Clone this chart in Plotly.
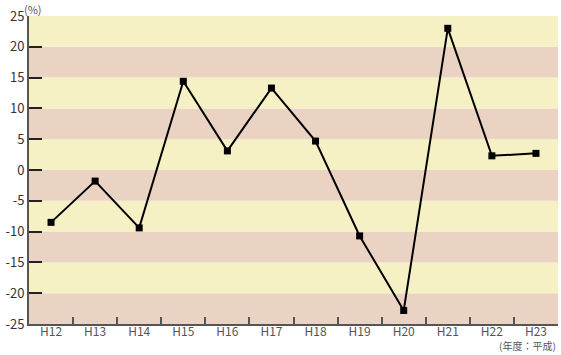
import plotly.graph_objects as go

categories = ["H12", "H13", "H14", "H15", "H16", "H17", "H18", "H19", "H20", "H21", "H22", "H23"]
values = [-8.5, -1.8, -9.4, 14.4, 3.1, 13.3, 4.7, -10.7, -22.8, 23.0, 2.3, 2.7]
y_ticks = [25, 20, 15, 10, 5, 0, -5, -10, -15, -20, -25]
band_edges = [-25, -20, -15, -10, -5, 0, 5, 10, 15, 20, 25]

YELLOW = "#F5F1C4"
PINK = "#EBD3C4"
FONT = "Noto Sans CJK JP, Noto Sans, sans-serif"

fig = go.Figure()

fig.add_trace(go.Scatter(
    x=list(range(len(categories))), y=values,
    mode="lines+markers",
    line=dict(color="black", width=2),
    marker=dict(symbol="square", size=7, color="black"),
    showlegend=False, hoverinfo="skip",
))

shapes = []
for i in range(len(band_edges) - 1):
    shapes.append(dict(
        type="rect", xref="paper", yref="y", layer="below",
        x0=0, x1=1, y0=band_edges[i], y1=band_edges[i + 1],
        fillcolor=PINK if i % 2 == 0 else YELLOW, line=dict(width=0),
    ))

fig.update_layout(
    width=561, height=355,
    margin=dict(l=29, r=3, t=16, b=31),
    paper_bgcolor="white", plot_bgcolor="white",
    font=dict(family=FONT, size=12, color="#333"),
    shapes=shapes,
    xaxis=dict(
        range=[-0.5, len(categories) - 0.5],
        tickmode="array",
        tickvals=list(range(len(categories))),
        ticktext=categories,
        showgrid=False, zeroline=False,
        showline=True, linecolor="#555", linewidth=2,
        ticks="", ticklabelstandoff=-4,
        tickfont=dict(size=12, color="#555"),
    ),
    xaxis2=dict(
        overlaying="x", matches="x", side="bottom",
        tickmode="array",
        tickvals=[i + 0.5 for i in range(len(categories))],
        ticks="inside", ticklen=7, tickcolor="#555", tickwidth=1.5,
        showticklabels=False, showgrid=False, zeroline=False,
        anchor="y",
    ),
    yaxis=dict(
        range=[-25, 25],
        tickmode="array", tickvals=y_ticks,
        ticktext=[str(v) for v in y_ticks],
        showgrid=False, zeroline=False,
        showline=True, linecolor="#555", linewidth=2,
        ticks="inside", ticklen=13, tickcolor="#222", tickwidth=1.5,
        tickfont=dict(size=13, color="#333"),
    ),
    annotations=[
        dict(text="(%)", xref="paper", yref="paper", x=0.0, y=1.0,
             xanchor="left", yanchor="top", xshift=-7, yshift=17, showarrow=False,
             font=dict(size=11, color="#555")),
        dict(text="(年度：平成)", xref="paper", yref="paper", x=1.0, y=0.0,
             xanchor="right", yanchor="bottom", yshift=-31, showarrow=False,
             font=dict(size=10, color="#555")),
    ],
)

# invisible trace to activate xaxis2 for tick marks
fig.add_trace(go.Scatter(x=[0], y=[None], xaxis="x2", yaxis="y",
                         showlegend=False, hoverinfo="skip"))

fig.write_html("out.html")
